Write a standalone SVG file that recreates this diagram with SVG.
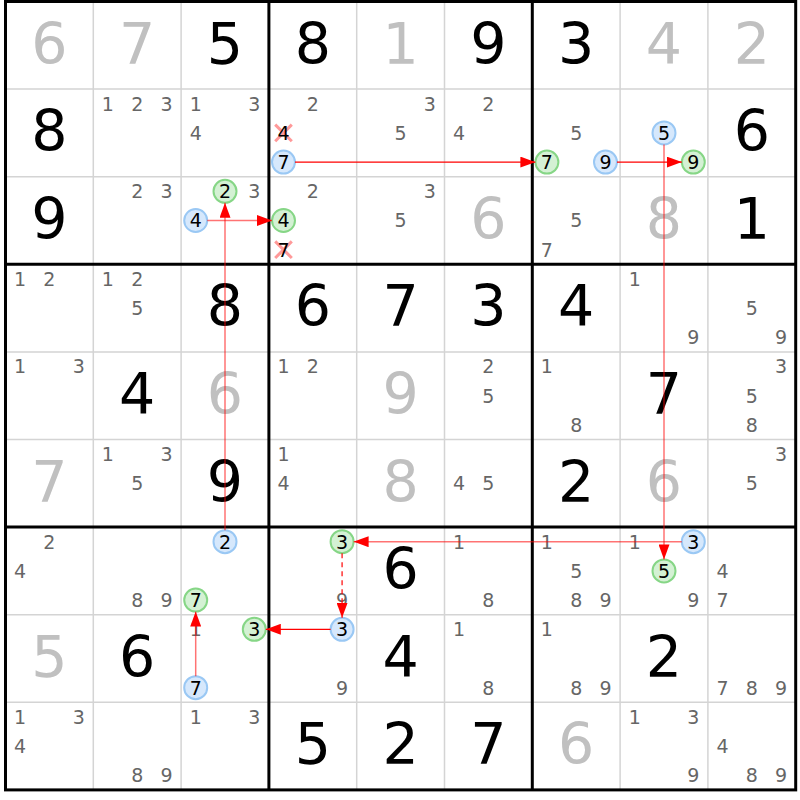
<svg xmlns="http://www.w3.org/2000/svg" width="800" height="800" viewBox="0 0 800 800">
<style>
text{font-family:"DejaVu Sans",Verdana,sans-serif;text-anchor:middle}
.g{font-size:57px;fill:#000}
.s{font-size:57px;fill:#c0c0c0}
.c{font-size:19px;fill:#666}
.k{font-size:19px;fill:#000}
.cb{fill:#d6e8fc;stroke:#9ac8f4;stroke-width:2}
.cg{fill:#d4f1d4;stroke:#86d686;stroke-width:2}
.x{stroke:#ff0000;stroke-opacity:0.4;stroke-width:3;fill:none}
.thin{stroke:#d4d4d4;stroke-width:1.5}
.thick{stroke:#000;stroke-width:3}
.l{stroke:#ff0000;stroke-width:1.3;fill:none}
.lp{stroke:#ff0000;stroke-opacity:0.55;stroke-width:1.5;fill:none}
.d{stroke-dasharray:5 4;stroke-opacity:0.8}
</style>
<defs>
<marker id="ah" viewBox="0 0 15 11" refX="15" refY="5.5" markerWidth="15" markerHeight="11" markerUnits="userSpaceOnUse" orient="auto"><path d="M0,0 L15,5.5 L0,11 z" fill="#ff0000"/></marker>
</defs>
<rect x="0" y="0" width="800" height="800" fill="#fff"/>
<g id="grid">
<path class="thin" d="M93.3,1.5V789.9M181.1,1.5V789.9M356.7,1.5V789.9M444.5,1.5V789.9M620.1,1.5V789.9M707.9,1.5V789.9M5.5,89.1H795.7M5.5,176.7H795.7M5.5,351.9H795.7M5.5,439.5H795.7M5.5,614.7H795.7M5.5,702.3H795.7"/>
<path class="thick" d="M268.9,1.5V789.9M532.3,1.5V789.9M5.5,264.3H795.7M5.5,527.1H795.7"/>
<rect class="thick" x="5.5" y="1.5" width="790.2" height="788.4" fill="none"/>
</g>
<g id="cells">
<g id="r1c1" transform="translate(5.5,1.5)"><text class="s" x="43.9" y="62">6</text></g>
<g id="r1c2" transform="translate(93.3,1.5)"><text class="s" x="43.9" y="62">7</text></g>
<g id="r1c3" transform="translate(181.1,1.5)"><text class="g" x="43.9" y="62">5</text></g>
<g id="r1c4" transform="translate(268.9,1.5)"><text class="g" x="43.9" y="62">8</text></g>
<g id="r1c5" transform="translate(356.7,1.5)"><text class="s" x="43.9" y="62">1</text></g>
<g id="r1c6" transform="translate(444.5,1.5)"><text class="g" x="43.9" y="62">9</text></g>
<g id="r1c7" transform="translate(532.3,1.5)"><text class="g" x="43.9" y="62">3</text></g>
<g id="r1c8" transform="translate(620.1,1.5)"><text class="s" x="43.9" y="62">4</text></g>
<g id="r1c9" transform="translate(707.9,1.5)"><text class="s" x="43.9" y="62">2</text></g>

<g id="r2c1" transform="translate(5.5,89.1)"><text class="g" x="43.9" y="62">8</text></g>
<g id="r2c2" transform="translate(93.3,89.1)"><text class="c" x="14.6" y="21.5">1</text><text class="c" x="43.9" y="21.5">2</text><text class="c" x="73.2" y="21.5">3</text></g>
<g id="r2c3" transform="translate(181.1,89.1)"><text class="c" x="14.6" y="21.5">1</text><text class="c" x="73.2" y="21.5">3</text><text class="c" x="14.6" y="50.7">4</text></g>
<g id="r2c4" transform="translate(268.9,89.1)"><text class="c" x="43.9" y="21.5">2</text><path class="x" d="M6.3,35.5L22.9,52.1M22.9,35.5L6.3,52.1"/><text class="k" x="14.6" y="50.7">4</text><circle class="cb" cx="14.6" cy="73" r="11.5"/><text class="k" x="14.6" y="79.9">7</text></g>
<g id="r2c5" transform="translate(356.7,89.1)"><text class="c" x="73.2" y="21.5">3</text><text class="c" x="43.9" y="50.7">5</text></g>
<g id="r2c6" transform="translate(444.5,89.1)"><text class="c" x="43.9" y="21.5">2</text><text class="c" x="14.6" y="50.7">4</text></g>
<g id="r2c7" transform="translate(532.3,89.1)"><text class="c" x="43.9" y="50.7">5</text><circle class="cg" cx="14.6" cy="73" r="11.5"/><text class="k" x="14.6" y="79.9">7</text><circle class="cb" cx="73.2" cy="73" r="11.5"/><text class="k" x="73.2" y="79.9">9</text></g>
<g id="r2c8" transform="translate(620.1,89.1)"><circle class="cb" cx="43.9" cy="43.8" r="11.5"/><text class="k" x="43.9" y="50.7">5</text><circle class="cg" cx="73.2" cy="73" r="11.5"/><text class="k" x="73.2" y="79.9">9</text></g>
<g id="r2c9" transform="translate(707.9,89.1)"><text class="g" x="43.9" y="62">6</text></g>

<g id="r3c1" transform="translate(5.5,176.7)"><text class="g" x="43.9" y="62">9</text></g>
<g id="r3c2" transform="translate(93.3,176.7)"><text class="c" x="43.9" y="21.5">2</text><text class="c" x="73.2" y="21.5">3</text></g>
<g id="r3c3" transform="translate(181.1,176.7)"><circle class="cg" cx="43.9" cy="14.6" r="11.5"/><text class="k" x="43.9" y="21.5">2</text><text class="c" x="73.2" y="21.5">3</text><circle class="cb" cx="14.6" cy="43.8" r="11.5"/><text class="k" x="14.6" y="50.7">4</text></g>
<g id="r3c4" transform="translate(268.9,176.7)"><text class="c" x="43.9" y="21.5">2</text><circle class="cg" cx="14.6" cy="43.8" r="11.5"/><text class="k" x="14.6" y="50.7">4</text><path class="x" d="M6.3,64.7L22.9,81.3M22.9,64.7L6.3,81.3"/><text class="k" x="14.6" y="79.9">7</text></g>
<g id="r3c5" transform="translate(356.7,176.7)"><text class="c" x="73.2" y="21.5">3</text><text class="c" x="43.9" y="50.7">5</text></g>
<g id="r3c6" transform="translate(444.5,176.7)"><text class="s" x="43.9" y="62">6</text></g>
<g id="r3c7" transform="translate(532.3,176.7)"><text class="c" x="43.9" y="50.7">5</text><text class="c" x="14.6" y="79.9">7</text></g>
<g id="r3c8" transform="translate(620.1,176.7)"><text class="s" x="43.9" y="62">8</text></g>
<g id="r3c9" transform="translate(707.9,176.7)"><text class="g" x="43.9" y="62">1</text></g>

<g id="r4c1" transform="translate(5.5,264.3)"><text class="c" x="14.6" y="21.5">1</text><text class="c" x="43.9" y="21.5">2</text></g>
<g id="r4c2" transform="translate(93.3,264.3)"><text class="c" x="14.6" y="21.5">1</text><text class="c" x="43.9" y="21.5">2</text><text class="c" x="43.9" y="50.7">5</text></g>
<g id="r4c3" transform="translate(181.1,264.3)"><text class="g" x="43.9" y="62">8</text></g>
<g id="r4c4" transform="translate(268.9,264.3)"><text class="g" x="43.9" y="62">6</text></g>
<g id="r4c5" transform="translate(356.7,264.3)"><text class="g" x="43.9" y="62">7</text></g>
<g id="r4c6" transform="translate(444.5,264.3)"><text class="g" x="43.9" y="62">3</text></g>
<g id="r4c7" transform="translate(532.3,264.3)"><text class="g" x="43.9" y="62">4</text></g>
<g id="r4c8" transform="translate(620.1,264.3)"><text class="c" x="14.6" y="21.5">1</text><text class="c" x="73.2" y="79.9">9</text></g>
<g id="r4c9" transform="translate(707.9,264.3)"><text class="c" x="43.9" y="50.7">5</text><text class="c" x="73.2" y="79.9">9</text></g>

<g id="r5c1" transform="translate(5.5,351.9)"><text class="c" x="14.6" y="21.5">1</text><text class="c" x="73.2" y="21.5">3</text></g>
<g id="r5c2" transform="translate(93.3,351.9)"><text class="g" x="43.9" y="62">4</text></g>
<g id="r5c3" transform="translate(181.1,351.9)"><text class="s" x="43.9" y="62">6</text></g>
<g id="r5c4" transform="translate(268.9,351.9)"><text class="c" x="14.6" y="21.5">1</text><text class="c" x="43.9" y="21.5">2</text></g>
<g id="r5c5" transform="translate(356.7,351.9)"><text class="s" x="43.9" y="62">9</text></g>
<g id="r5c6" transform="translate(444.5,351.9)"><text class="c" x="43.9" y="21.5">2</text><text class="c" x="43.9" y="50.7">5</text></g>
<g id="r5c7" transform="translate(532.3,351.9)"><text class="c" x="14.6" y="21.5">1</text><text class="c" x="43.9" y="79.9">8</text></g>
<g id="r5c8" transform="translate(620.1,351.9)"><text class="g" x="43.9" y="62">7</text></g>
<g id="r5c9" transform="translate(707.9,351.9)"><text class="c" x="73.2" y="21.5">3</text><text class="c" x="43.9" y="50.7">5</text><text class="c" x="43.9" y="79.9">8</text></g>

<g id="r6c1" transform="translate(5.5,439.5)"><text class="s" x="43.9" y="62">7</text></g>
<g id="r6c2" transform="translate(93.3,439.5)"><text class="c" x="14.6" y="21.5">1</text><text class="c" x="73.2" y="21.5">3</text><text class="c" x="43.9" y="50.7">5</text></g>
<g id="r6c3" transform="translate(181.1,439.5)"><text class="g" x="43.9" y="62">9</text></g>
<g id="r6c4" transform="translate(268.9,439.5)"><text class="c" x="14.6" y="21.5">1</text><text class="c" x="14.6" y="50.7">4</text></g>
<g id="r6c5" transform="translate(356.7,439.5)"><text class="s" x="43.9" y="62">8</text></g>
<g id="r6c6" transform="translate(444.5,439.5)"><text class="c" x="14.6" y="50.7">4</text><text class="c" x="43.9" y="50.7">5</text></g>
<g id="r6c7" transform="translate(532.3,439.5)"><text class="g" x="43.9" y="62">2</text></g>
<g id="r6c8" transform="translate(620.1,439.5)"><text class="s" x="43.9" y="62">6</text></g>
<g id="r6c9" transform="translate(707.9,439.5)"><text class="c" x="73.2" y="21.5">3</text><text class="c" x="43.9" y="50.7">5</text></g>

<g id="r7c1" transform="translate(5.5,527.1)"><text class="c" x="43.9" y="21.5">2</text><text class="c" x="14.6" y="50.7">4</text></g>
<g id="r7c2" transform="translate(93.3,527.1)"><text class="c" x="43.9" y="79.9">8</text><text class="c" x="73.2" y="79.9">9</text></g>
<g id="r7c3" transform="translate(181.1,527.1)"><circle class="cb" cx="43.9" cy="14.6" r="11.5"/><text class="k" x="43.9" y="21.5">2</text><circle class="cg" cx="14.6" cy="73" r="11.5"/><text class="k" x="14.6" y="79.9">7</text></g>
<g id="r7c4" transform="translate(268.9,527.1)"><circle class="cg" cx="73.2" cy="14.6" r="11.5"/><text class="k" x="73.2" y="21.5">3</text><text class="c" x="73.2" y="79.9">9</text></g>
<g id="r7c5" transform="translate(356.7,527.1)"><text class="g" x="43.9" y="62">6</text></g>
<g id="r7c6" transform="translate(444.5,527.1)"><text class="c" x="14.6" y="21.5">1</text><text class="c" x="43.9" y="79.9">8</text></g>
<g id="r7c7" transform="translate(532.3,527.1)"><text class="c" x="14.6" y="21.5">1</text><text class="c" x="43.9" y="50.7">5</text><text class="c" x="43.9" y="79.9">8</text><text class="c" x="73.2" y="79.9">9</text></g>
<g id="r7c8" transform="translate(620.1,527.1)"><text class="c" x="14.6" y="21.5">1</text><circle class="cb" cx="73.2" cy="14.6" r="11.5"/><text class="k" x="73.2" y="21.5">3</text><circle class="cg" cx="43.9" cy="43.8" r="11.5"/><text class="k" x="43.9" y="50.7">5</text><text class="c" x="73.2" y="79.9">9</text></g>
<g id="r7c9" transform="translate(707.9,527.1)"><text class="c" x="14.6" y="50.7">4</text><text class="c" x="14.6" y="79.9">7</text></g>

<g id="r8c1" transform="translate(5.5,614.7)"><text class="s" x="43.9" y="62">5</text></g>
<g id="r8c2" transform="translate(93.3,614.7)"><text class="g" x="43.9" y="62">6</text></g>
<g id="r8c3" transform="translate(181.1,614.7)"><text class="c" x="14.6" y="21.5">1</text><circle class="cg" cx="73.2" cy="14.6" r="11.5"/><text class="k" x="73.2" y="21.5">3</text><circle class="cb" cx="14.6" cy="73" r="11.5"/><text class="k" x="14.6" y="79.9">7</text></g>
<g id="r8c4" transform="translate(268.9,614.7)"><circle class="cb" cx="73.2" cy="14.6" r="11.5"/><text class="k" x="73.2" y="21.5">3</text><text class="c" x="73.2" y="79.9">9</text></g>
<g id="r8c5" transform="translate(356.7,614.7)"><text class="g" x="43.9" y="62">4</text></g>
<g id="r8c6" transform="translate(444.5,614.7)"><text class="c" x="14.6" y="21.5">1</text><text class="c" x="43.9" y="79.9">8</text></g>
<g id="r8c7" transform="translate(532.3,614.7)"><text class="c" x="14.6" y="21.5">1</text><text class="c" x="43.9" y="79.9">8</text><text class="c" x="73.2" y="79.9">9</text></g>
<g id="r8c8" transform="translate(620.1,614.7)"><text class="g" x="43.9" y="62">2</text></g>
<g id="r8c9" transform="translate(707.9,614.7)"><text class="c" x="14.6" y="79.9">7</text><text class="c" x="43.9" y="79.9">8</text><text class="c" x="73.2" y="79.9">9</text></g>

<g id="r9c1" transform="translate(5.5,702.3)"><text class="c" x="14.6" y="21.5">1</text><text class="c" x="73.2" y="21.5">3</text><text class="c" x="14.6" y="50.7">4</text></g>
<g id="r9c2" transform="translate(93.3,702.3)"><text class="c" x="43.9" y="79.9">8</text><text class="c" x="73.2" y="79.9">9</text></g>
<g id="r9c3" transform="translate(181.1,702.3)"><text class="c" x="14.6" y="21.5">1</text><text class="c" x="73.2" y="21.5">3</text></g>
<g id="r9c4" transform="translate(268.9,702.3)"><text class="g" x="43.9" y="62">5</text></g>
<g id="r9c5" transform="translate(356.7,702.3)"><text class="g" x="43.9" y="62">2</text></g>
<g id="r9c6" transform="translate(444.5,702.3)"><text class="g" x="43.9" y="62">7</text></g>
<g id="r9c7" transform="translate(532.3,702.3)"><text class="s" x="43.9" y="62">6</text></g>
<g id="r9c8" transform="translate(620.1,702.3)"><text class="c" x="14.6" y="21.5">1</text><text class="c" x="73.2" y="21.5">3</text><text class="c" x="73.2" y="79.9">9</text></g>
<g id="r9c9" transform="translate(707.9,702.3)"><text class="c" x="14.6" y="50.7">4</text><text class="c" x="43.9" y="79.9">8</text><text class="c" x="73.2" y="79.9">9</text></g>
</g>
<g id="connectors">
<line class="l" x1="295" y1="162.1" x2="535.4" y2="162.1" marker-end="url(#ah)"/>
<line class="l" x1="617" y1="162.1" x2="681.8" y2="162.1" marker-end="url(#ah)"/>
<line class="lp" x1="664" y1="144.4" x2="664" y2="559.4" marker-end="url(#ah)"/>
<line class="lp" x1="681.8" y1="541.7" x2="353.6" y2="541.7" marker-end="url(#ah)"/>
<line class="lp d" x1="342.1" y1="553.2" x2="342.1" y2="617.8" marker-end="url(#ah)"/>
<line class="l" x1="330.6" y1="629.3" x2="265.8" y2="629.3" marker-end="url(#ah)"/>
<line class="lp" x1="195.7" y1="676.2" x2="195.7" y2="611.6" marker-end="url(#ah)"/>
<line class="lp" x1="225" y1="530.2" x2="225" y2="202.8" marker-end="url(#ah)"/>
<line class="lp" x1="207.2" y1="220.5" x2="272" y2="220.5" marker-end="url(#ah)"/>
</g>
</svg>
